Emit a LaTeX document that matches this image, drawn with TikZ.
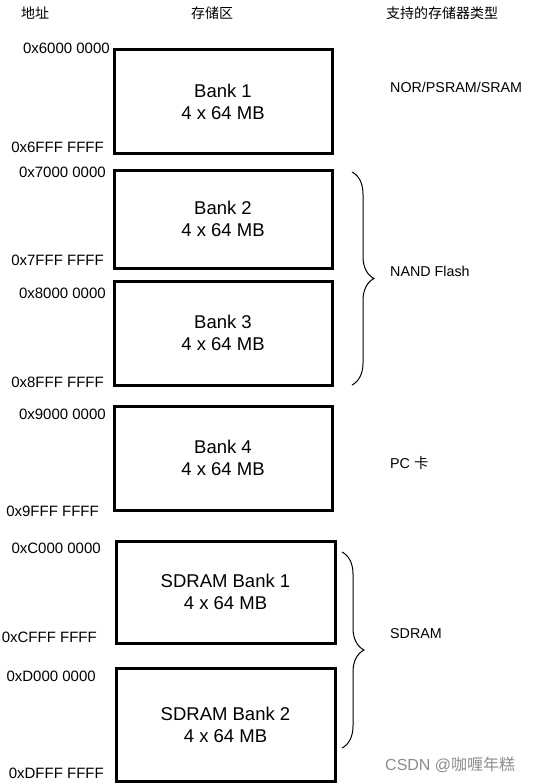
\documentclass[tikz,border=0pt]{standalone}
\usepackage{fontspec}
\setmainfont{Liberation Sans}
\newfontfamily\cjk{Noto Sans CJK SC}
\usetikzlibrary{decorations.pathreplacing}
\tikzset{
  bankbox/.style={draw,line width=3pt,minimum width=218pt,align=center,
    font=\fontsize{18.5}{22}\selectfont,inner sep=0pt},
  addr/.style={anchor=east,font=\fontsize{15}{16}\selectfont,inner sep=0pt},
  head/.style={font=\cjk\fontsize{14}{16}\selectfont,inner sep=0pt},
  memtype/.style={anchor=west,font=\fontsize{14.3}{16}\selectfont,inner sep=0pt},
  curly/.style={decorate,decoration={brace,amplitude=22pt},line width=1pt}
}
\begin{document}
\begin{tikzpicture}[x=1pt,y=-1pt]
  \useasboundingbox (0,0) rectangle (535,784);
  % column headings
  \node[head] (hAddr) at (35,13) {地址};
  \node[head] (hBank) at (212,13) {存储区};
  \node[head] (hType) at (442,13) {支持的存储器类型};
  % banks
  \node[bankbox,minimum height=103pt] (bank1) at (223,101.5) {Bank 1\\4 x 64 MB};
  \node[bankbox,minimum height=98pt] (bank2) at (223,219) {Bank 2\\4 x 64 MB};
  \node[bankbox,minimum height=104pt] (bank3) at (223,333) {Bank 3\\4 x 64 MB};
  \node[bankbox,minimum height=104pt] (bank4) at (223,458) {Bank 4\\4 x 64 MB};
  \node[bankbox,minimum width=219pt,minimum height=102pt] (sdram1) at (225.5,592) {SDRAM Bank 1\\4 x 64 MB};
  \node[bankbox,minimum width=219pt,minimum height=113pt] (sdram2) at (225.5,724.5) {SDRAM Bank 2\\4 x 64 MB};
  % addresses
  \node[addr] (a1s) at (110,48) {0x6000 0000};
  \node[addr] (a1e) at (104,147) {0x6FFF FFFF};
  \node[addr] (a2s) at (106,172) {0x7000 0000};
  \node[addr] (a2e) at (104,260) {0x7FFF FFFF};
  \node[addr] (a3s) at (106,293) {0x8000 0000};
  \node[addr] (a3e) at (104,382) {0x8FFF FFFF};
  \node[addr] (a4s) at (106,414) {0x9000 0000};
  \node[addr] (a4e) at (99,511) {0x9FFF FFFF};
  \node[addr] (s1s) at (101,548) {0xC000 0000};
  \node[addr] (s1e) at (97,637) {0xCFFF FFFF};
  \node[addr] (s2s) at (96,676) {0xD000 0000};
  \node[addr] (s2e) at (104,773) {0xDFFF FFFF};
  % memory types
  \coordinate (nandTop) at (352,172);
  \coordinate (nandBot) at (352,385);
  \coordinate (sdTop) at (342,552);
  \coordinate (sdBot) at (342,748);
  \draw[curly] (nandTop) -- (nandBot);
  \draw[curly] (sdTop) -- (sdBot);
  \node[memtype] (tNor) at (390,87) {NOR/PSRAM/SRAM};
  \node[memtype] (tNand) at (390,271) {NAND Flash};
  \node[memtype] (tPc) at (390,463) {PC {\cjk 卡}};
  \node[memtype] (tSd) at (390,634) {SDRAM};
  \node[memtype,text=black!45,font=\fontsize{16}{18}\selectfont] (mark) at (385,765) {CSDN @{\cjk 咖喱年糕}};
\end{tikzpicture}
\end{document}
